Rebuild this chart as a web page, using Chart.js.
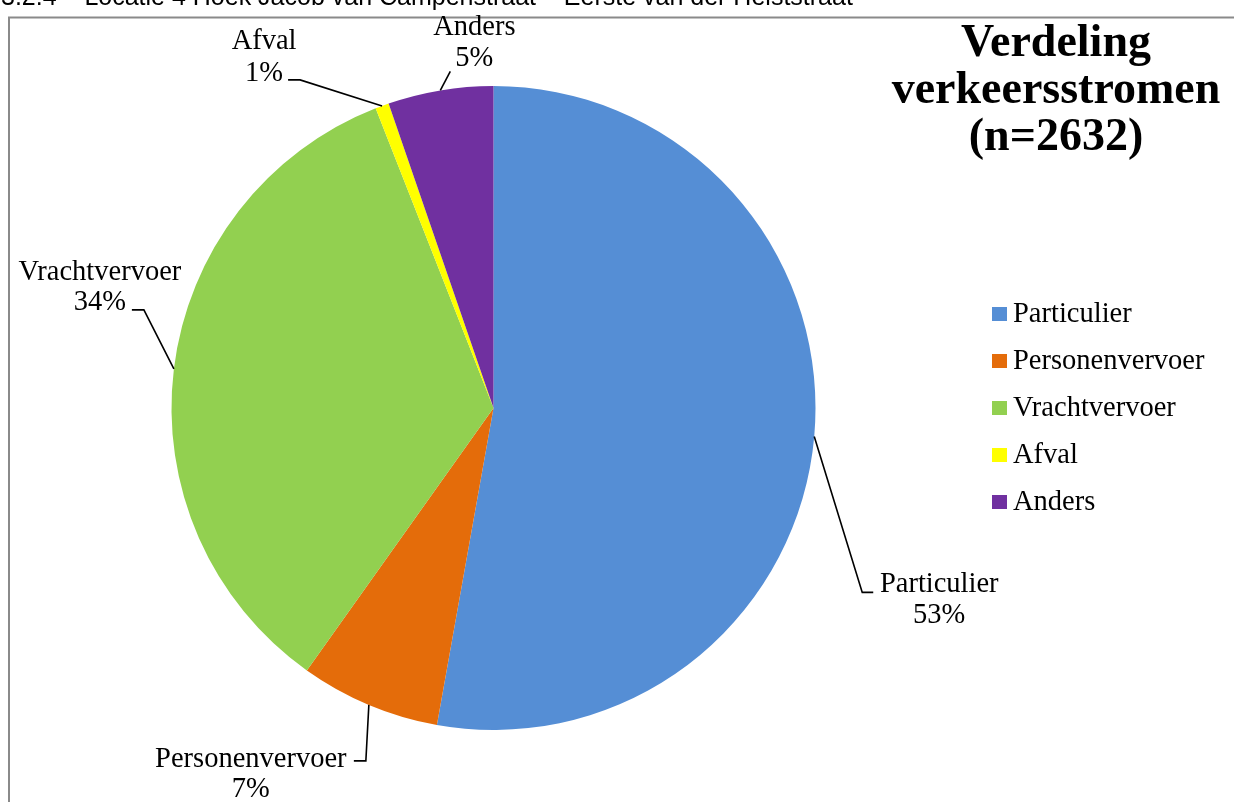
<!DOCTYPE html>
<html>
<head>
<meta charset="utf-8">
<script src="https://cdn.jsdelivr.net/npm/chart.js@4.4.1/dist/chart.umd.min.js"></script>
<style>
  html, body { margin: 0; padding: 0; background: #fff; overflow: hidden; }
  #wrap { position: relative; width: 1234px; height: 802px; }
</style>
</head>
<body>
<div id="wrap"><canvas id="c" width="1234" height="802"></canvas></div>
<script>
// Traffic counts per category (n = 2632)
const categories = ['Particulier', 'Personenvervoer', 'Vrachtvervoer', 'Afval', 'Anders'];
const counts = [1390, 185, 900, 18, 139];
const sliceColors = ['#558ED5', '#E46C0A', '#92D050', '#FFFF00', '#7030A0'];
const titleLines = ['Verdeling', 'verkeersstromen', '(n=2632)'];
const sectionHeading = '3.2.4 \u2013 Locatie 4 Hoek Jacob van Campenstraat \u2013 Eerste van der Helststraat';

const SERIF = '"Liberation Serif", "Times New Roman", serif';
const LABEL_FONT = '28.5px ' + SERIF;

// Label placement relative to the midpoint of each slice's outer edge:
// elbow of the leader line, end of the short horizontal stub, text centre and two baselines.
const labelLayout = [
  { elbow: [48, 156],  stub: [59, 156],  text: [125, 156, 187] },
  { elbow: [-3, 56],   stub: [-15, 56],  text: [-118, 62, 92] },
  { elbow: [-30, -59], stub: [-42, -59], text: [-74, -89, -59] },
  { elbow: [-82, -26], stub: [-94, -26], text: [-118, -57, -25] },
  { elbow: [10, -19],  stub: [10, -19],  text: [34, -55, -24] }
];

// Page frame and the section heading running off the top edge
const framePlugin = {
  id: 'frame',
  beforeDraw(chart) {
    const ctx = chart.ctx;
    ctx.save();
    ctx.fillStyle = '#fff';
    ctx.fillRect(0, 0, chart.width, chart.height);
    ctx.fillStyle = '#000';
    ctx.font = '25px "Liberation Sans", Arial, sans-serif';
    ctx.textAlign = 'left';
    ctx.textBaseline = 'alphabetic';
    ctx.fillText(sectionHeading, 1, 5);
    ctx.strokeStyle = '#8a8a8a';
    ctx.lineWidth = 2;
    ctx.beginPath();
    ctx.moveTo(9, chart.height + 2);
    ctx.lineTo(9, 17.5);
    ctx.lineTo(chart.width + 2, 17.5);
    ctx.stroke();
    ctx.restore();
  }
};

// Outside labels with leader lines
const pieLabels = {
  id: 'pieLabels',
  afterDatasetsDraw(chart) {
    const ctx = chart.ctx;
    const meta = chart.getDatasetMeta(0);
    const total = counts.reduce((a, b) => a + b, 0);
    meta.data.forEach((arc, i) => {
      const p = arc.getProps(['x', 'y', 'startAngle', 'endAngle', 'outerRadius'], true);
      const mid = (p.startAngle + p.endAngle) / 2;
      const ax = p.x + Math.cos(mid) * p.outerRadius;
      const ay = p.y + Math.sin(mid) * p.outerRadius;
      const L = labelLayout[i];
      ctx.save();
      ctx.strokeStyle = '#000';
      ctx.lineWidth = 1.6;
      ctx.beginPath();
      ctx.moveTo(ax, ay);
      ctx.lineTo(ax + L.elbow[0], ay + L.elbow[1]);
      ctx.lineTo(ax + L.stub[0], ay + L.stub[1]);
      ctx.stroke();
      ctx.fillStyle = '#000';
      ctx.font = LABEL_FONT;
      ctx.textAlign = 'center';
      ctx.textBaseline = 'alphabetic';
      ctx.fillText(categories[i], ax + L.text[0], ay + L.text[1]);
      ctx.fillText(Math.round(counts[i] / total * 100) + '%', ax + L.text[0], ay + L.text[2]);
      ctx.restore();
    });
  }
};

// Title block and legend on the right
const sidePanel = {
  id: 'sidePanel',
  afterDraw(chart) {
    const ctx = chart.ctx;
    ctx.save();
    ctx.fillStyle = '#000';
    ctx.font = 'bold 46px ' + SERIF;
    ctx.textAlign = 'center';
    ctx.textBaseline = 'alphabetic';
    titleLines.forEach((t, k) => ctx.fillText(t, 1056, 56 + k * 47));

    ctx.font = LABEL_FONT;
    ctx.textAlign = 'left';
    ctx.textBaseline = 'middle';
    categories.forEach((name, k) => {
      const cy = 314 + k * 47;
      ctx.fillStyle = sliceColors[k];
      ctx.fillRect(992, cy - 7, 15, 14);
      ctx.fillStyle = '#000';
      ctx.fillText(name, 1013, cy + 1);
    });
    ctx.restore();
  }
};

new Chart(document.getElementById('c'), {
  type: 'pie',
  data: {
    labels: categories,
    datasets: [{
      data: counts,
      backgroundColor: sliceColors,
      borderWidth: 0
    }]
  },
  options: {
    responsive: false,
    animation: false,
    layout: { padding: { left: 171.5, right: 418.5, top: 86, bottom: 72 } },
    plugins: {
      legend: { display: false },
      title: { display: false },
      tooltip: { enabled: false }
    }
  },
  plugins: [framePlugin, pieLabels, sidePanel]
});
</script>
</body>
</html>
